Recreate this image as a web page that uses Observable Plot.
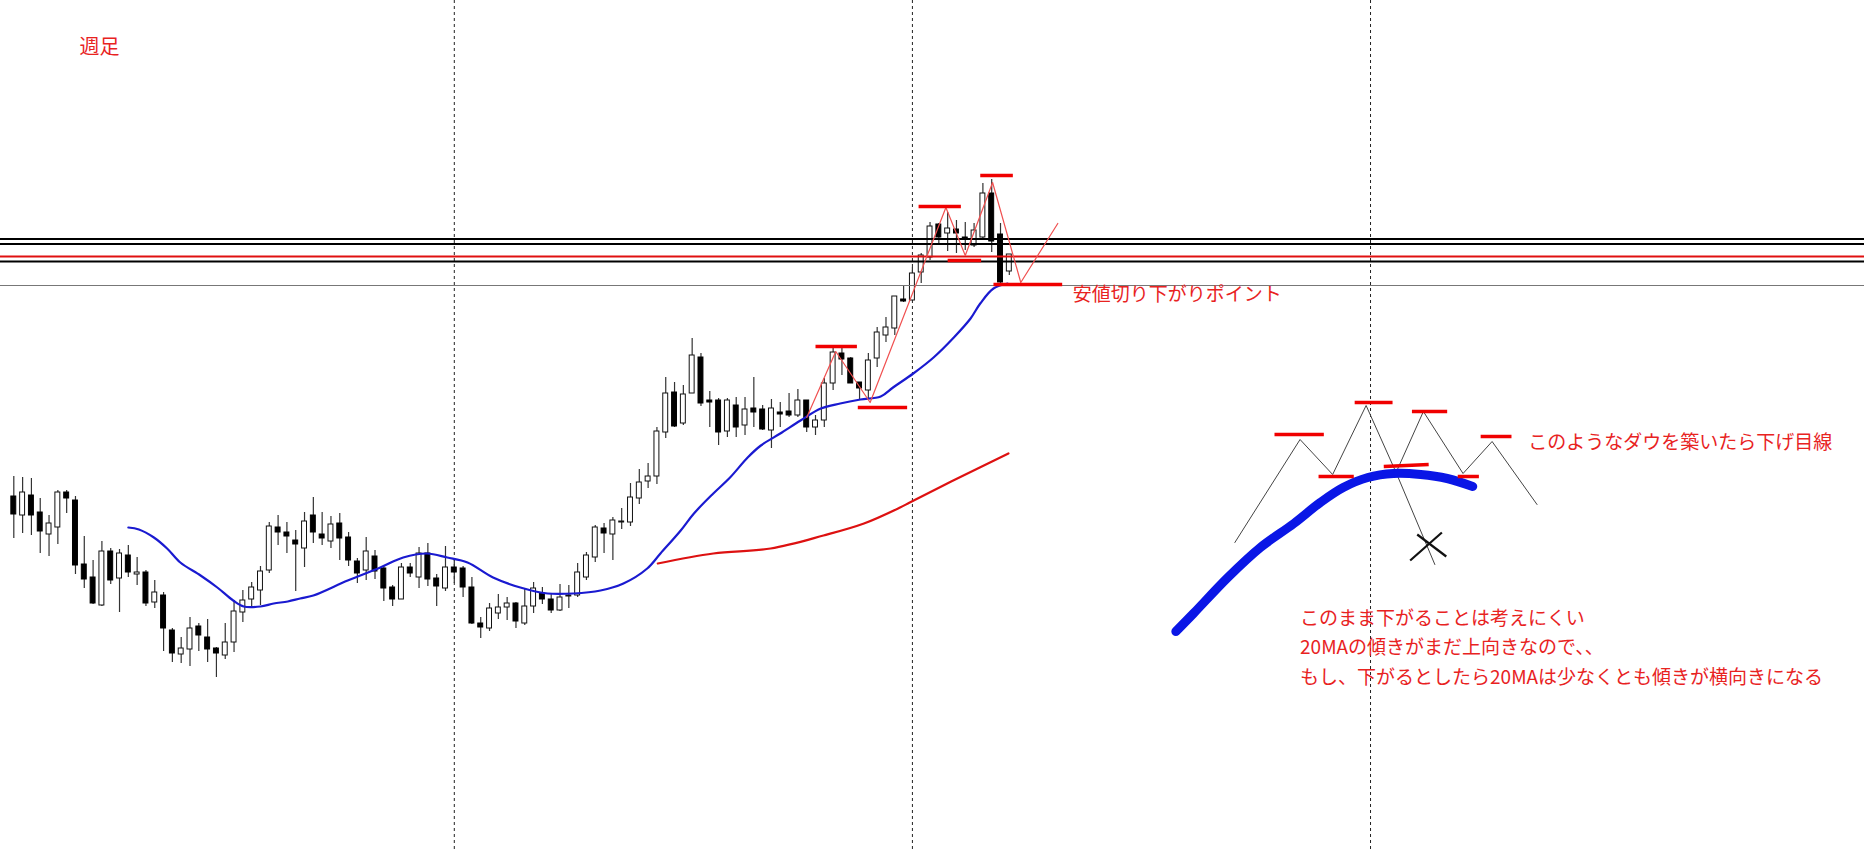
<!DOCTYPE html>
<html><head><meta charset="utf-8">
<script src="https://cdn.jsdelivr.net/npm/d3@7"></script>
<script src="https://cdn.jsdelivr.net/npm/@observablehq/plot@0.6"></script>
<style>body{margin:0;background:#fff;} #chart svg{display:block}</style>
</head><body><div id="chart"></div>
<script>
// Weekly candles (price units), week index 0..113
const opens  = [504,485,505,488,466,473,508,500,436,423,395,449,422,445,426,428,398,405,370,346,351,374,363,352,345,358,388,401,410,430,473,468,460,452,485,466,459,477,463,439,430,444,432,413,401,433,423,447,422,412,433,432,413,377,372,387,393,397,377,394,407,401,390,404,405,423,443,472,466,478,478,502,519,524,568,608,577,607,643,600,600,569,595,575,592,591,570,588,589,585,600,573,580,617,647,642,618,610,642,665,672,701,700,728,743,776,767,771,763,755,763,807,766,729];
const highs  = [524,523,522,502,485,510,510,504,464,440,459,452,451,455,443,430,420,408,372,363,383,377,381,353,377,400,410,418,434,478,485,478,470,488,503,488,484,487,468,442,463,450,435,415,437,437,453,457,426,454,441,434,423,383,397,406,403,398,412,418,413,407,416,415,437,448,475,477,483,492,517,531,537,573,623,618,615,662,647,609,602,602,603,603,623,595,601,598,607,611,600,585,622,652,652,643,618,647,673,683,704,715,733,747,778,777,788,780,778,777,817,821,777,746];
const lows   = [462,467,465,447,444,456,487,426,412,396,394,416,388,423,415,394,392,349,338,337,334,349,338,323,341,348,378,393,395,427,455,447,409,433,457,455,452,440,434,417,420,421,399,394,401,423,412,414,394,409,417,403,376,362,369,381,380,372,375,387,396,387,389,392,403,420,438,447,440,471,474,496,512,516,562,573,575,607,594,573,555,563,563,565,573,570,552,573,583,583,568,565,573,610,625,617,600,602,633,658,665,698,700,717,740,755,749,747,750,753,760,748,717,725];
const closes = [486,508,485,469,477,508,502,435,421,397,449,420,447,428,428,397,408,372,347,352,372,365,351,347,358,389,400,413,429,474,468,464,456,479,468,462,476,462,440,427,449,429,412,401,433,427,447,421,414,433,428,413,377,373,392,393,397,379,394,412,401,390,403,405,428,445,473,467,480,479,503,518,524,569,607,574,606,645,597,598,568,600,573,591,588,571,592,586,585,600,573,580,617,648,641,617,612,640,668,673,704,699,727,745,774,763,772,767,762,770,807,759,718,746];

// Moving averages: [week index, value]
const ma20 = [[13,473],[14.2,471],[15.9,463],[17.4,452],[18.9,438],[21.2,425],[23.1,413],[24.9,400],[26.1,394],[28,394],[29.5,397],[31.1,399],[32.5,402],[34,405],[37.9,420],[41.6,433],[44.2,443],[46.9,447],[49.2,443],[51.5,438],[54.4,423],[57.5,413],[60.6,407],[63.5,407],[66.6,410],[69.2,417],[71.9,432],[73.4,447],[75.7,470],[77.2,487],[79.4,507],[81.3,523],[83.3,543],[84.8,555],[87,567],[89.3,580],[91.6,592],[93.8,597],[96.1,601],[98.4,604],[99.8,613],[102.1,627],[104.4,643],[106.7,663],[108.6,682],[109.7,697],[111.2,712],[112.8,717]];
const ma75 = [[73.1,437],[79.4,447],[85.9,452],[91.9,465],[96.5,477],[100.6,493],[101.7,498],[106.4,519],[112.9,547]];

// Year separators (week index)
const separators = [50, 102, 154];
// Horizontal levels
const blackLevels = [761.5, 756.5, 739];
const redLevels = [744];
const grayLevels = [715];

// Drawn swing zigzag and swing high/low bars [from, to, price]
const zigzag = [[90.0,583],[93.3,649],[97.2,598],[105.8,793],[108.0,745],[111.1,818],[114.3,718],[118.5,777]];
const swingBars = [[91.0,95.7,654,654],[95.8,101.4,593,593],[102.7,107.5,794,794],[106.0,109.8,740,740],[109.7,113.4,825,825],[111.2,119.0,716,716]];

// Scenario sketch on the right
const sketchPath1 = [[138.6,458],[146.0,561],[149.7,526],[153.5,595],[156.9,528],[161.3,436]];
const sketchPath2 = [[156.9,528],[160.0,589],[164.5,527],[167.8,559],[172.9,496]];
const sketchBars = [[143.1,148.7,566,566],[148.1,152.1,524,524],[152.2,156.5,598,598],[158.7,162.7,589,589],[155.5,160.6,534,536],[163.9,166.3,524,524],[166.5,170.0,564,564]];
const crossMark = [[158.5,162.1,440,468],[159.3,162.6,466,444]];
const sketchMA = [[131.9,369],[133.9,387],[137.8,423],[141.5,453],[145.3,477],[148.3,498],[150.9,513],[153.7,523],[156.6,527],[159.7,526],[162.7,522],[165.6,514]];

// Labels [week index, price, text]
const titleLabel = [[7.46, 947, "週足"]];
const pointLabel = [[120.2, 700, "安値切り下がりポイント"]];
const dowLabel = [[171.9, 552, "このようなダウを築いたら下げ目線"]];
const noteLabels = [[146.0, 376, "このまま下がることは考えにくい"],[146.0, 347, "20MAの傾きがまだ上向きなので、、"],[146.0, 317, "もし、下がるとしたら20MAは少なくとも傾きが横向きになる"]];

const candles = opens.map((o, i) => ({i, open: o, high: highs[i], low: lows[i], close: closes[i]}));
const bull = candles.filter(d => d.close >= d.open);
const bear = candles.filter(d => d.close < d.open);
const hw = 0.28;
const red = "#e8231f";
const font = "'Noto Sans CJK JP', 'Noto Sans', sans-serif";

const chart = Plot.plot({
  width: 1864, height: 852,
  marginTop: 0, marginRight: 0, marginBottom: 0, marginLeft: 0,
  x: {domain: [-1.51, 210.07], axis: null},
  y: {domain: [148, 1000], axis: null},
  style: {background: "#fff", fontFamily: font},
  marks: [
    Plot.ruleX(separators, {stroke: "#222", strokeWidth: 1, strokeDasharray: "3,3"}),
    Plot.ruleX(candles, {x: "i", y1: "low", y2: "high", stroke: "#333", strokeWidth: 1.2}),
    Plot.rect(bull, {x1: d => d.i - hw, x2: d => d.i + hw, y1: "open", y2: "close", fill: "#fff", stroke: "#111", strokeWidth: 1}),
    Plot.rect(bear, {x1: d => d.i - hw, x2: d => d.i + hw, y1: "open", y2: "close", fill: "#000", stroke: "#000", strokeWidth: 1}),
    Plot.ruleY(grayLevels, {stroke: "#777", strokeWidth: 1}),
    Plot.ruleY(blackLevels, {stroke: "#000", strokeWidth: 2}),
    Plot.ruleY(redLevels, {stroke: "#e01010", strokeWidth: 2}),
    Plot.line(ma75, {x: d => d[0], y: d => d[1], stroke: "#dd1111", strokeWidth: 2.2, curve: "catmull-rom"}),
    Plot.line(ma20, {x: d => d[0], y: d => d[1], stroke: "#1a1ad0", strokeWidth: 2.2, curve: "catmull-rom"}),
    Plot.line(zigzag, {x: d => d[0], y: d => d[1], stroke: "#f05050", strokeWidth: 1.2}),
    Plot.link(swingBars, {x1: d => d[0], x2: d => d[1], y1: d => d[2], y2: d => d[3], stroke: "#f00000", strokeWidth: 3.5}),
    Plot.line(sketchPath1, {x: d => d[0], y: d => d[1], stroke: "#444", strokeWidth: 1}),
    Plot.line(sketchPath2, {x: d => d[0], y: d => d[1], stroke: "#444", strokeWidth: 1}),
    Plot.line(sketchMA, {x: d => d[0], y: d => d[1], stroke: "#0a16e6", strokeWidth: 9, strokeLinecap: "round", strokeLinejoin: "round", curve: "catmull-rom"}),
    Plot.link(sketchBars, {x1: d => d[0], x2: d => d[1], y1: d => d[2], y2: d => d[3], stroke: "#f00000", strokeWidth: 3.5}),
    Plot.link(crossMark, {x1: d => d[0], x2: d => d[1], y1: d => d[2], y2: d => d[3], stroke: "#111", strokeWidth: 2.2}),
    Plot.text(titleLabel, {x: d => d[0], y: d => d[1], text: d => d[2], textAnchor: "start", lineAnchor: "bottom", fill: red, fontSize: 20, fontFamily: font}),
    Plot.text(pointLabel, {x: d => d[0], y: d => d[1], text: d => d[2], textAnchor: "start", lineAnchor: "bottom", fill: red, fontSize: 19, fontFamily: font}),
    Plot.text(dowLabel, {x: d => d[0], y: d => d[1], text: d => d[2], textAnchor: "start", lineAnchor: "bottom", fill: red, fontSize: 19, fontFamily: font}),
    Plot.text(noteLabels, {x: d => d[0], y: d => d[1], text: d => d[2], textAnchor: "start", lineAnchor: "bottom", fill: red, fontSize: 19, fontFamily: font})
  ]
});
document.getElementById("chart").append(chart);
</script>
</body></html>
